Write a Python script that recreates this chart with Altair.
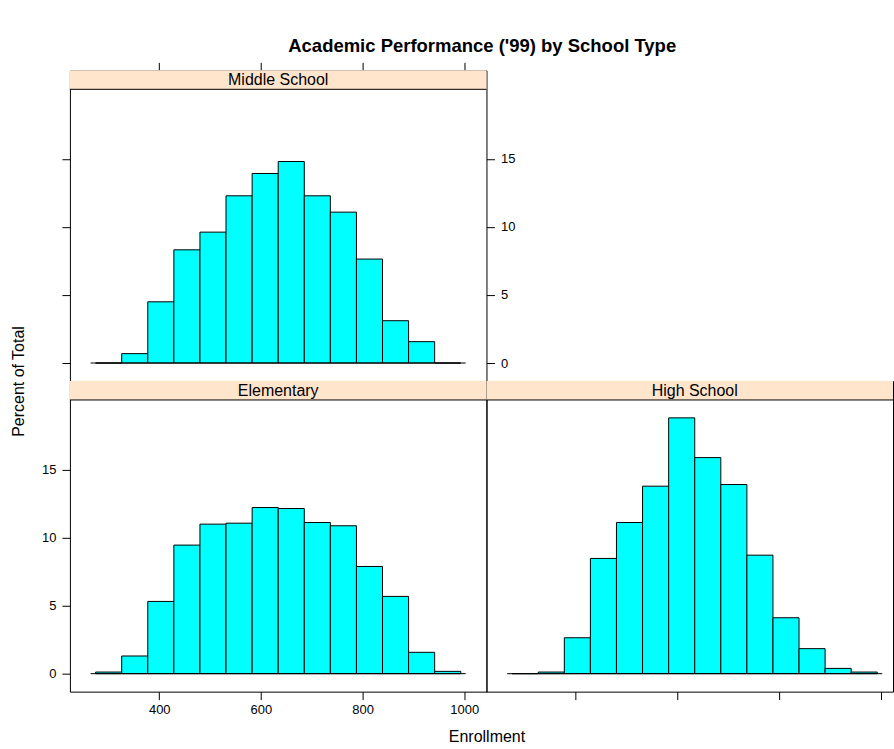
import altair as alt
import pandas as pd

# ---- data ----
bin_edges = [274.9, 326.2, 377.5, 428.8, 480.1, 531.4, 582.8, 634.1,
             685.4, 736.7, 788.0, 839.3, 890.6, 941.9, 993.2]
pct_middle = [0.0, 0.69, 4.50, 8.32, 9.62, 12.29, 13.93, 14.81,
              12.29, 11.09, 7.64, 3.11, 1.57, 0.0]
pct_elementary = [0.12, 1.30, 5.31, 9.45, 10.99, 11.06, 12.21, 12.14,
                  11.11, 10.87, 7.88, 5.68, 1.57, 0.17]
pct_high = [0.0, 0.12, 2.64, 8.47, 11.11, 13.78, 18.80, 15.88,
            13.90, 8.71, 4.11, 1.84, 0.39, 0.12]
baseline_range = [265.0, 1003.0]
x_ticks = [400, 600, 800, 1000]
y_ticks = [0, 5, 10, 15]

FONT = "Liberation Sans"
Y_DOMAIN = [-1.32, 21.51]
PANEL_H = 311
STRIP_H = 19
FULL_W = 417


def axis(orient, values, labels=True, **kw):
    return alt.Axis(orient=orient, values=values, labels=labels, tickSize=8,
                    domain=False, grid=False, labelFontSize=13, **kw)


def panel(label, pct, w, xdom, xaxis, yaxis, yaxis_rule):
    df = pd.DataFrame({"start": bin_edges[:-1], "end": bin_edges[1:], "pct": pct})
    xs = alt.Scale(domain=xdom, nice=False, zero=False)
    ys = alt.Scale(domain=Y_DOMAIN, nice=False, zero=False)
    bars = alt.Chart(df).mark_rect(fill="#00FFFF", stroke="black", strokeWidth=1).encode(
        x=alt.X("start:Q", scale=xs, axis=xaxis),
        x2="end:Q",
        y=alt.Y("pct:Q", scale=ys, axis=yaxis),
        y2=alt.datum(0),
    )
    bdf = pd.DataFrame({"x0": [baseline_range[0]], "x1": [baseline_range[1]], "y": [0]})
    base = alt.Chart(bdf).mark_rule(color="black", strokeWidth=1).encode(
        x=alt.X("x0:Q", scale=xs, axis=xaxis),
        x2="x1:Q",
        y=alt.Y("y:Q", scale=ys, axis=yaxis_rule),
    )
    sdf = pd.DataFrame({"label": [label]})
    strip = alt.Chart(sdf).mark_rect(fill="#FFE5CC").encode(
        x=alt.value(0), x2=alt.value(w), y=alt.value(0), y2=alt.value(STRIP_H)
    )
    strip_line = alt.Chart(sdf).mark_rule(color="black", strokeWidth=1).encode(
        x=alt.value(0), x2=alt.value(w), y=alt.value(STRIP_H)
    )
    strip_text = alt.Chart(sdf).mark_text(font=FONT, fontSize=16, baseline="middle",
                                          align="center", color="black").encode(
        x=alt.value(FULL_W / 2), y=alt.value(STRIP_H / 2 + 0.5), text="label:N"
    )
    return alt.layer(bars, base, strip, strip_line, strip_text).properties(width=w, height=PANEL_H)


xd_left = [224.3, 1043.8]
xd_right = [224.3, 1024.2]

x_top = axis("top", x_ticks, labels=False, title=None)
x_bottom_lab = axis("bottom", x_ticks, labelPadding=4, format="d", title="Enrollment",
                    titleX=FULL_W, titleY=50, titleAlign="center", titleBaseline="alphabetic",
                    titleFontSize=16, titleFontWeight="normal")
x_bottom_nolab = axis("bottom", x_ticks, labels=False, title=None)
y_left_nolab = axis("left", y_ticks, labels=False, title=None)
y_right_lab = axis("right", y_ticks, labelPadding=6, title=None)
y_left_lab = axis("left", y_ticks, labelPadding=6, title="Percent of Total",
                  titleX=-46, titleY=0, titleAngle=270, titleAlign="center",
                  titleBaseline="alphabetic", titleFontSize=16, titleFontWeight="normal")

ms = panel("Middle School", pct_middle, FULL_W, xd_left, x_top, y_left_nolab,
           y_right_lab).resolve_axis(y="independent")
el = panel("Elementary", pct_elementary, FULL_W, xd_left, x_bottom_lab, y_left_lab, y_left_lab)
hs = panel("High School", pct_high, 407, xd_right, x_bottom_nolab, None, None)

blank = alt.Chart(pd.DataFrame({"v": [0.5]})).mark_point(opacity=0, size=1).encode(
    x=alt.X("v:Q", axis=None, scale=alt.Scale(domain=[0, 1])),
    y=alt.Y("v:Q", axis=None, scale=alt.Scale(domain=[0, 1])),
).properties(width=407, height=PANEL_H, view=alt.ViewBackground(strokeOpacity=0))

chart = alt.concat(ms, blank, el, hs, columns=2, spacing=0, bounds="flush").properties(
    title=alt.TitleParams(text="Academic Performance ('99) by School Type", font=FONT,
                          fontSize=18.5, fontWeight="bold", anchor="middle", frame="bounds",
                          dx=30, offset=6, color="black"),
    padding={"left": 10, "top": 36, "right": 0, "bottom": 0},
).configure_view(stroke="black", strokeWidth=1).configure_axis(
    labelFont=FONT, titleFont=FONT, labelColor="black", titleColor="black",
    tickColor="black", tickWidth=1
)

chart.save("out.html", embed_options={"renderer": "svg", "actions": False})
